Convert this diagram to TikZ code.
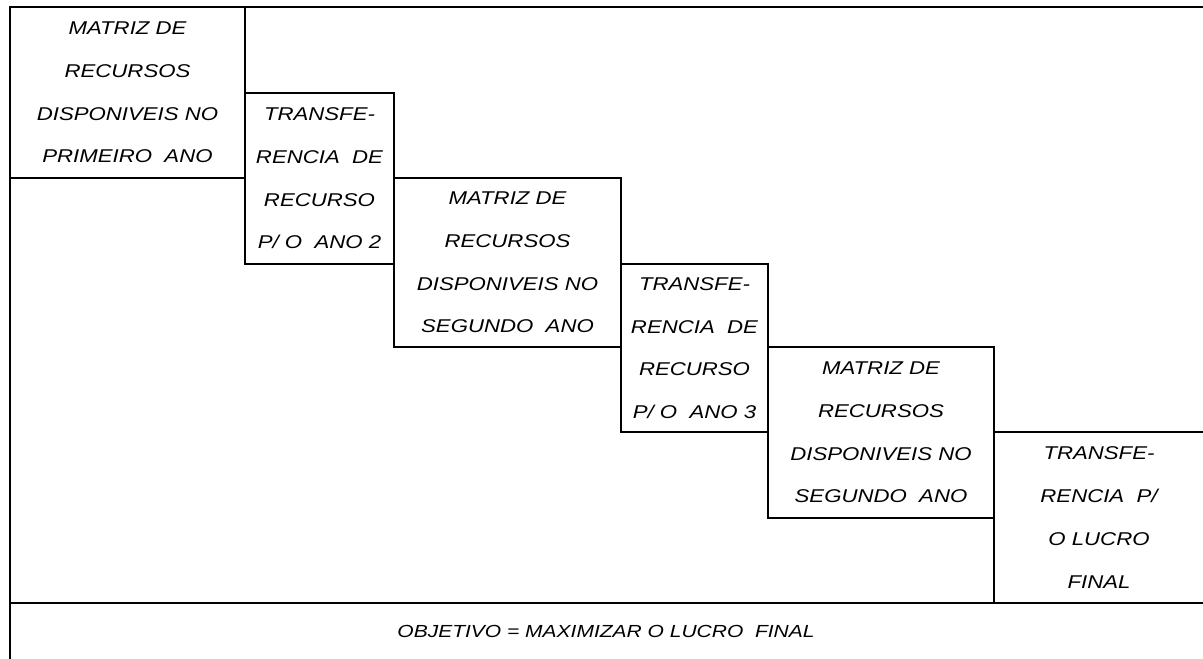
\documentclass[tikz,border=0pt]{standalone}
\usepackage{fontspec}
\setmainfont{Liberation Sans}[FakeStretch=1.2]
\tikzset{
  cell/.style={draw,rectangle,minimum height=171pt,inner sep=0pt,align=center,
    font={\fontsize{18.5}{42.7}\selectfont\itshape}},
  goal/.style={inner sep=0pt,font={\fontsize{17.5}{20}\selectfont\itshape}}
}

\begin{document}
\begin{tikzpicture}[x=1pt,y=-1pt,line width=1.5pt]
  \useasboundingbox (0,0) rectangle (1203,659);
  \clip (0,0) rectangle (1203,659);
  % outer frame and the row of the objective
  \coordinate (tl) at (10,7);
  \coordinate (br) at (1204,680);
  \draw (tl) rectangle (br);
  \coordinate (rowl) at (10,603);
  \coordinate (rowr) at (1204,603);
  \draw (rowl) -- (rowr);
  % staircase of matrices
  \node[cell,minimum width=235pt] (mat1) at (127.5,92.5)
    {MATRIZ DE\\RECURSOS\\DISPONIVEIS NO\\PRIMEIRO\ \ ANO};
  \node[cell,minimum width=149pt] (trf1) at (319.5,178.5)
    {TRANSFE-\\RENCIA\ \ DE\\RECURSO\\P/ O\ \ ANO 2};
  \node[cell,minimum width=227pt,minimum height=169pt] (mat2) at (507.5,262.5)
    {MATRIZ DE\\RECURSOS\\DISPONIVEIS NO\\SEGUNDO\ \ ANO};
  \node[cell,minimum width=147pt,minimum height=168pt] (trf2) at (694.5,348)
    {TRANSFE-\\RENCIA\ \ DE\\RECURSO\\P/ O\ \ ANO 3};
  \node[cell,minimum width=226pt] (mat3) at (881,432.5)
    {MATRIZ DE\\RECURSOS\\DISPONIVEIS NO\\SEGUNDO\ \ ANO};
  \node[cell,minimum width=210pt] (trf3) at (1099,517.5)
    {TRANSFE-\\RENCIA\ \ P/\\O LUCRO\\FINAL};
  \node[goal] (obj) at (606,631) {OBJETIVO = MAXIMIZAR O LUCRO\ \ FINAL};
\end{tikzpicture}
\end{document}
